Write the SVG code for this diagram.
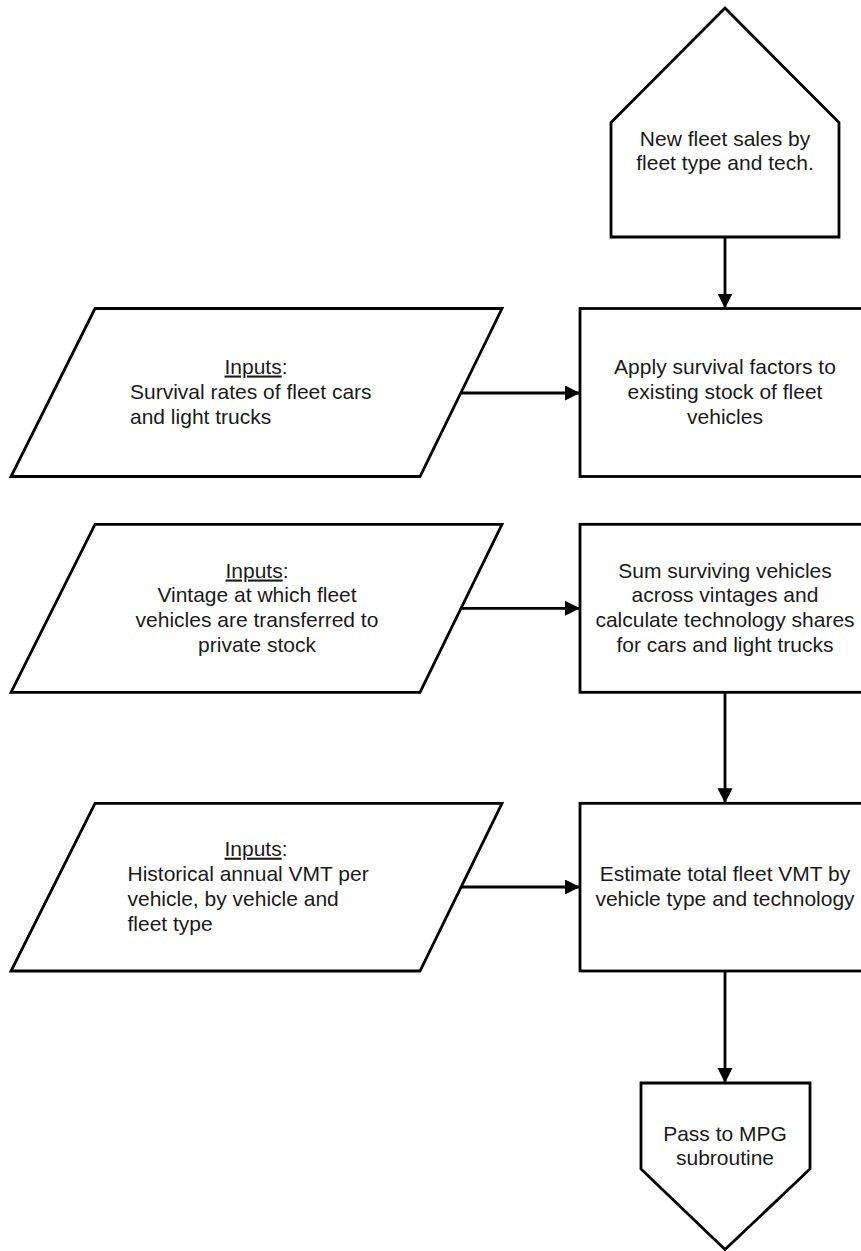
<svg xmlns="http://www.w3.org/2000/svg" width="861" height="1251" viewBox="0 0 861 1251">
<style>
.s{fill:#fff;stroke:#000;stroke-width:2.8;stroke-linejoin:miter}
.t{font-family:"Liberation Sans",Arial,sans-serif;font-size:21px;fill:#1a1a1a}
.c{text-anchor:middle}
.u{text-decoration:underline}
.e{fill:none;stroke:#000;stroke-width:2.8}
</style>
<defs>
<marker id="ah" markerUnits="userSpaceOnUse" markerWidth="16" markerHeight="16" refX="15" refY="7.5" orient="auto">
<path d="M0,0 L15,7.5 L0,15 Z" fill="#000"/>
</marker>
</defs>
<rect width="861" height="1251" fill="#fff"/>
<g id="connectors">
<path class="e" d="M725,237 L725,308.5" marker-end="url(#ah)"/>
<path class="e" d="M461,393 L580,393" marker-end="url(#ah)"/>
<path class="e" d="M461,608.3 L580,608.3" marker-end="url(#ah)"/>
<path class="e" d="M725,692.3 L725,803.3" marker-end="url(#ah)"/>
<path class="e" d="M461,887 L580,887" marker-end="url(#ah)"/>
<path class="e" d="M725,971 L725,1083" marker-end="url(#ah)"/>
</g>
<g id="new-sales">
<path class="s" d="M725,8 L839,122.5 L839,237 L611,237 L611,122.5 Z"/>
<text class="t c" x="725" y="146">New fleet sales by</text>
<text class="t c" x="725" y="170">fleet type and tech.</text>
</g>
<g id="input-survival">
<path class="s" d="M95,308.5 L502,308.5 L420,476.5 L11,476.5 Z"/>
<text class="t c" x="256" y="373.5"><tspan class="u">Inputs</tspan>:</text>
<text class="t" x="130" y="398.5">Survival rates of fleet cars</text>
<text class="t" x="130" y="423.5">and light trucks</text>
</g>
<g id="apply-survival">
<rect class="s" x="580" y="308.5" width="290" height="168"/>
<text class="t c" x="725" y="373.5">Apply survival factors to</text>
<text class="t c" x="725" y="398.5">existing stock of fleet</text>
<text class="t c" x="725" y="423.5">vehicles</text>
</g>
<g id="input-vintage">
<path class="s" d="M95,524.3 L502,524.3 L420,692.3 L11,692.3 Z"/>
<text class="t c" x="257" y="577.5"><tspan class="u">Inputs</tspan>:</text>
<text class="t c" x="257" y="602.3">Vintage at which fleet</text>
<text class="t c" x="257" y="627">vehicles are transferred to</text>
<text class="t c" x="257" y="652">private stock</text>
</g>
<g id="sum-surviving">
<rect class="s" x="580" y="524.3" width="290" height="168"/>
<text class="t c" x="725" y="577.5">Sum surviving vehicles</text>
<text class="t c" x="725" y="602.3">across vintages and</text>
<text class="t c" x="725" y="627">calculate technology shares</text>
<text class="t c" x="725" y="652">for cars and light trucks</text>
</g>
<g id="input-vmt">
<path class="s" d="M95,803.3 L502,803.3 L420,971 L11,971 Z"/>
<text class="t c" x="256" y="855.7"><tspan class="u">Inputs</tspan>:</text>
<text class="t" x="127.5" y="880.7">Historical annual VMT per</text>
<text class="t" x="127.5" y="905.7">vehicle, by vehicle and</text>
<text class="t" x="127.5" y="930.7">fleet type</text>
</g>
<g id="estimate-vmt">
<rect class="s" x="580" y="803.3" width="290" height="167.7"/>
<text class="t c" x="725" y="880.7">Estimate total fleet VMT by</text>
<text class="t c" x="725" y="905.7">vehicle type and technology</text>
</g>
<g id="pass-mpg">
<path class="s" d="M641,1083 L810,1083 L810,1169 L725,1249.5 L641,1169 Z"/>
<text class="t c" x="725" y="1140.7">Pass to MPG</text>
<text class="t c" x="725" y="1165.3">subroutine</text>
</g>
</svg>
